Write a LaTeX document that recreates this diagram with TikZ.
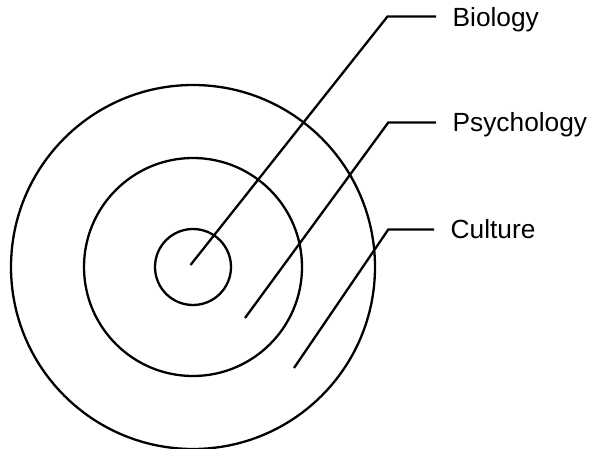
\documentclass[tikz,border=0pt]{standalone}
\usepackage{fontspec}
\setmainfont{Liberation Sans}
\begin{document}
\begin{tikzpicture}[x=1pt, y=-1pt, line width=2.3pt,
    levellabel/.style={anchor=base west, inner xsep=15.5pt, inner ysep=0pt,
      font=\fontsize{26.3}{30}\selectfont}]
        \useasboundingbox (0,0) rectangle (591,449);
        % Nested circles
        \coordinate (centre) at (193,267);
        \draw (centre) circle (182pt);
        \draw (centre) circle (109pt);
        \draw (centre) circle (38pt);

        % Labels
        \node[levellabel] (biology) at (436,26.8) {Biology};
        \node[levellabel] (psychology) at (436,131.3) {Psychology};
        \node[levellabel] (culture) at (434,238.5) {Culture};

        % Leader lines
        \coordinate (biologyin) at (190.5,265);
        \coordinate (biologybend) at (387.5,16.5);
        \draw (biologyin) -- (biologybend) -- (biologybend -| biology.west);
        \coordinate (psychologyin) at (245,318);
        \coordinate (psychologybend) at (388.3,122.5);
        \draw (psychologyin) -- (psychologybend) -- (psychologybend -| psychology.west);
        \coordinate (culturein) at (294,368);
        \coordinate (culturebend) at (388.3,229.5);
        \draw (culturein) -- (culturebend) -- (culturebend -| culture.west);
      \end{tikzpicture}
\end{document}
